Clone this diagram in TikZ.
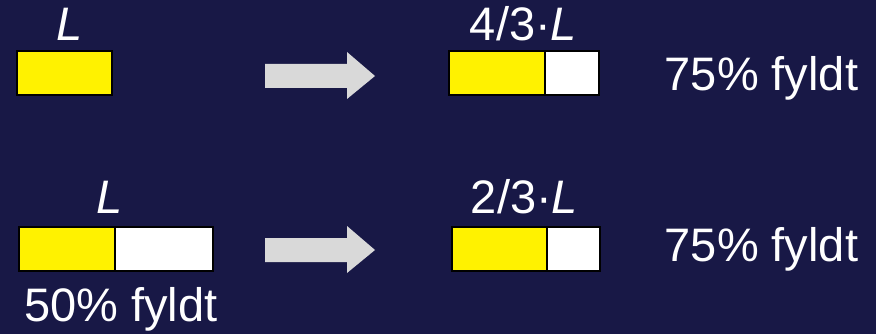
\documentclass[tikz,border=0pt]{standalone}
\usepackage{fontspec}
\setmainfont{Liberation Sans}
\definecolor{bg}{RGB}{24,24,70}
\definecolor{arrowgray}{RGB}{217,217,217}
\tikzset{
  bar/.style={draw=black,line width=2.2pt},
  lbl/.style={text=white,inner sep=0pt,anchor=base,font=\fontsize{47}{55}\selectfont},
  biglbl/.style={text=white,inner sep=0pt,anchor=base,font=\fontsize{47}{55}\selectfont\itshape},
  bigarrow/.style={fill=arrowgray}
}
\begin{document}
\begin{tikzpicture}[x=1pt,y=-1pt]
\fill[bg] (0,0) rectangle (876,334);
\useasboundingbox (0,0) rectangle (876,334);
% row 1
\node[biglbl] (l1) at (70,41) {L};
\filldraw[bar,fill=yellow] (17,51) rectangle (112,95);
\fill[bigarrow] (265,64) -- (347,64) -- (347,52) -- (375,76) -- (347,99) -- (347,88) -- (265,88) -- cycle;
\node[lbl] (l2) at (523.5,41) {4/3·\textit{L}};
\filldraw[bar,fill=yellow] (449,51) rectangle (545,95);
\filldraw[bar,fill=white] (545,51) rectangle (599,95);
\node[lbl] (f1) at (761.5,91) {75\% fyldt};
% row 2
\node[biglbl] (l3) at (110,214) {L};
\filldraw[bar,fill=yellow] (19,227) rectangle (115,271);
\filldraw[bar,fill=white] (115,227) rectangle (213,271);
\node[lbl] (f0) at (121,321) {50\% fyldt};
\fill[bigarrow] (265,238) -- (347,238) -- (347,226) -- (375,250) -- (347,273) -- (347,262) -- (265,262) -- cycle;
\node[lbl] (l4) at (524.5,213) {2/3·\textit{L}};
\filldraw[bar,fill=yellow] (452,227) rectangle (547,271);
\filldraw[bar,fill=white] (547,227) rectangle (600,271);
\node[lbl] (f2) at (761.5,261) {75\% fyldt};
\end{tikzpicture}
\end{document}
